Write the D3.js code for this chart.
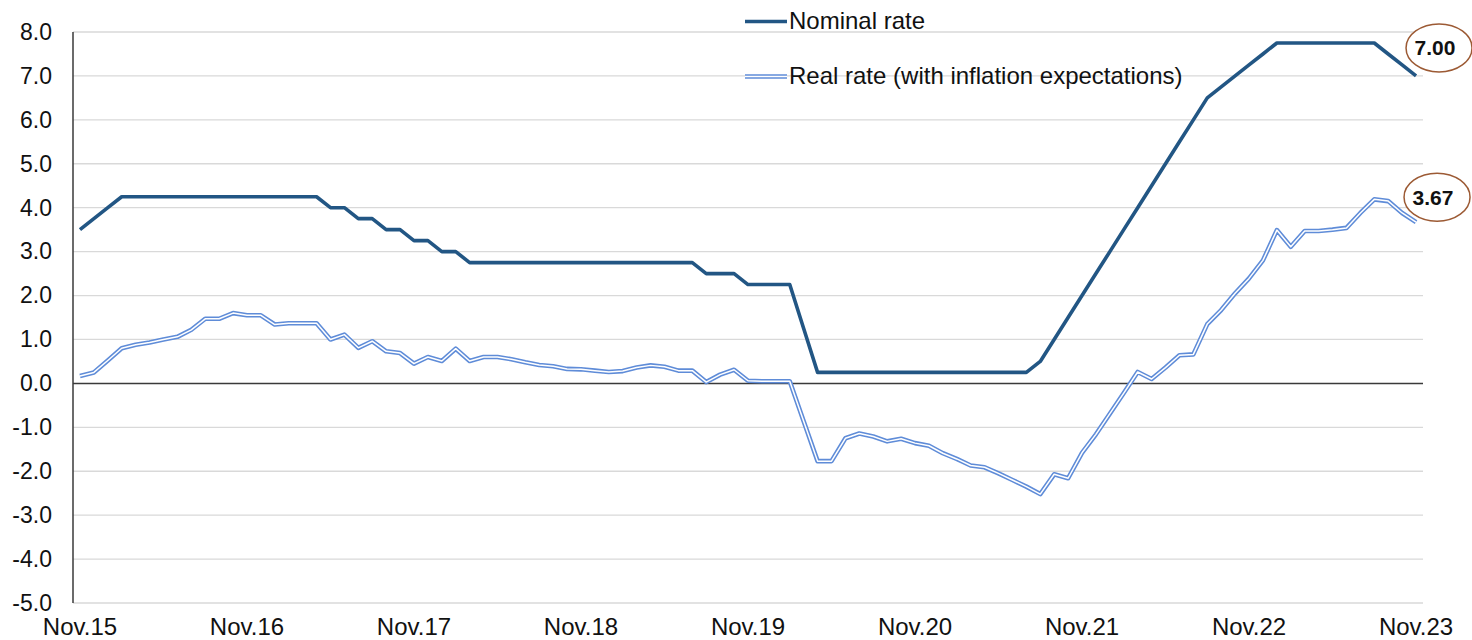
<!DOCTYPE html>
<html>
<head>
<meta charset="utf-8">
<script src="https://cdn.jsdelivr.net/npm/d3@7"></script>
<style>
  html, body { margin: 0; padding: 0; background: #fff; }
  svg { display: block; }
  text { font-family: "Liberation Sans", Arial, sans-serif; fill: #111; }
</style>
</head>
<body>
<svg id="chart" width="1472" height="640"></svg>
<script>
// ---------------- DATA ----------------
const startMonth = new Date(2015, 10, 1);   // Nov 2015
const endMonth = new Date(2023, 11, 1);     // exclusive -> last is Nov 2023
const months = d3.timeMonth.range(startMonth, endMonth);

const tickLabels = ["Nov.15","Nov.16","Nov.17","Nov.18","Nov.19","Nov.20","Nov.21","Nov.22","Nov.23"];
const yTicks = [-5,-4,-3,-2,-1,0,1,2,3,4,5,6,7,8];

const seriesNames = ["Nominal rate", "Real rate (with inflation expectations)"];

const nominalRate = [
  3.50, 3.75, 4.00, 4.25, 4.25, 4.25, 4.25, 4.25, 4.25, 4.25, 4.25, 4.25,
  4.25, 4.25, 4.25, 4.25, 4.25, 4.25, 4.00, 4.00, 3.75, 3.75, 3.50, 3.50,
  3.25, 3.25, 3.00, 3.00, 2.75, 2.75, 2.75, 2.75, 2.75, 2.75, 2.75, 2.75,
  2.75, 2.75, 2.75, 2.75, 2.75, 2.75, 2.75, 2.75, 2.75, 2.50, 2.50, 2.50,
  2.25, 2.25, 2.25, 2.25, 1.25, 0.25, 0.25, 0.25, 0.25, 0.25, 0.25, 0.25,
  0.25, 0.25, 0.25, 0.25, 0.25, 0.25, 0.25, 0.25, 0.25, 0.50, 1.00, 1.50,
  2.00, 2.50, 3.00, 3.50, 4.00, 4.50, 5.00, 5.50, 6.00, 6.50, 6.75, 7.00,
  7.25, 7.50, 7.75, 7.75, 7.75, 7.75, 7.75, 7.75, 7.75, 7.75, 7.50, 7.25,
  7.00
];

const realRate = [
  0.17, 0.25, 0.52, 0.80, 0.88, 0.93, 1.00, 1.06, 1.22, 1.47, 1.47, 1.60,
  1.55, 1.55, 1.34, 1.37, 1.37, 1.37, 1.00, 1.11, 0.81, 0.96, 0.73, 0.69,
  0.45, 0.60, 0.51, 0.79, 0.51, 0.60, 0.60, 0.55, 0.48, 0.42, 0.39, 0.33,
  0.32, 0.29, 0.26, 0.28, 0.36, 0.41, 0.38, 0.29, 0.29, 0.03, 0.20, 0.31,
  0.06, 0.05, 0.05, 0.05, -0.86, -1.77, -1.77, -1.25, -1.14, -1.21, -1.32, -1.26,
  -1.36, -1.42, -1.59, -1.72, -1.87, -1.91, -2.05, -2.20, -2.35, -2.52, -2.07, -2.16,
  -1.58, -1.16, -0.69, -0.22, 0.26, 0.10, 0.36, 0.64, 0.66, 1.35, 1.67, 2.05,
  2.39, 2.80, 3.49, 3.11, 3.47, 3.47, 3.50, 3.54, 3.88, 4.19, 4.15, 3.88,
  3.67
];

// ---------------- LAYOUT ----------------
const svg = d3.select("#chart");
const plot = { left: 73, right: 1423, top: 32, bottom: 603 };
const colNominal = "#225684";
const colReal = "#5F8CD8";

const x = d3.scaleBand().domain(months).range([plot.left, plot.right]).padding(0);
const xc = d => x(d) + x.bandwidth() / 2;
const y = d3.scaleLinear().domain([-5, 8]).range([plot.bottom, plot.top]);

// gridlines
svg.append("g").selectAll("line").data(yTicks.filter(v => v !== 0)).join("line")
  .attr("x1", plot.left).attr("x2", plot.right)
  .attr("y1", d => y(d)).attr("y2", d => y(d))
  .attr("stroke", "#d9d9d9").attr("stroke-width", 1.3);

// y axis labels
const yAxis = d3.axisLeft(y).tickValues(yTicks).tickSize(0).tickPadding(21)
  .tickFormat(d => d.toFixed(1));
const gy = svg.append("g").attr("transform", `translate(${plot.left},0)`).call(yAxis);
gy.select(".domain").remove();
gy.selectAll("text").style("font-size", "23px").attr("fill", "#111")
  .style("font-family", "'Liberation Sans', Arial, sans-serif");

// x axis labels
const tickMonths = months.filter((d, i) => i % 12 === 0);
const xAxis = d3.axisBottom(x).tickValues(tickMonths).tickSize(0).tickPadding(15)
  .tickFormat((d, i) => tickLabels[i]);
const gx = svg.append("g").attr("transform", `translate(0,${plot.bottom})`).call(xAxis);
gx.select(".domain").remove();
gx.selectAll("text").style("font-size", "24px").attr("fill", "#111")
  .style("font-family", "'Liberation Sans', Arial, sans-serif");

// zero line and vertical axis
svg.append("line").attr("x1", plot.left).attr("x2", plot.right)
  .attr("y1", y(0)).attr("y2", y(0)).attr("stroke", "#3a3a3a").attr("stroke-width", 1.5);
svg.append("line").attr("x1", plot.left).attr("x2", plot.left)
  .attr("y1", y(8)).attr("y2", y(-5)).attr("stroke", "#3a3a3a").attr("stroke-width", 1.5);

// lines
const line = d3.line().x((d, i) => xc(months[i])).y(d => y(d));
svg.append("path").datum(realRate).attr("d", line)
  .attr("fill", "none").attr("stroke", colReal).attr("stroke-width", 4.6)
  .attr("stroke-linejoin", "round");
svg.append("path").datum(realRate).attr("d", line)
  .attr("fill", "none").attr("stroke", "#ffffff").attr("stroke-width", 1.5)
  .attr("stroke-linejoin", "round");
svg.append("path").datum(nominalRate).attr("d", line)
  .attr("fill", "none").attr("stroke", colNominal).attr("stroke-width", 3.6)
  .attr("stroke-linejoin", "round");

// legend
const legX1 = 745, legX2 = 787;
const leg = svg.append("g");
[[seriesNames[0], 21.5, "nom"], [seriesNames[1], 76.5, "real"]].forEach(([name, ly, kind]) => {
  if (kind === "nom") {
    leg.append("line").attr("x1", legX1).attr("x2", legX2).attr("y1", ly).attr("y2", ly)
      .attr("stroke", colNominal).attr("stroke-width", 3.6);
  } else {
    leg.append("line").attr("x1", legX1).attr("x2", legX2).attr("y1", ly).attr("y2", ly)
      .attr("stroke", colReal).attr("stroke-width", 4.6);
    leg.append("line").attr("x1", legX1).attr("x2", legX2).attr("y1", ly).attr("y2", ly)
      .attr("stroke", "#fff").attr("stroke-width", 1.5);
  }
  leg.append("text").attr("x", legX2 + 2).attr("y", ly + 7.5)
    .style("font-size", "24px").text(name);
});

// end-value annotations
const lastM = months[months.length - 1];
[[nominalRate[nominalRate.length - 1], 23, -28], [realRate[realRate.length - 1], 21, -25]]
  .forEach(([v, dx, dy]) => {
    const cx = xc(lastM) + dx, cy = y(v) + dy;
    svg.append("ellipse").attr("cx", cx).attr("cy", cy).attr("rx", 33).attr("ry", 24)
      .attr("fill", "#fff").attr("stroke", "#9c5a34").attr("stroke-width", 1.5);
    svg.append("text").attr("x", cx - 4).attr("y", cy + 7.5)
      .attr("text-anchor", "middle").style("font-size", "21px").style("font-weight", "bold")
      .text(v.toFixed(2));
  });
</script>
</body>
</html>
